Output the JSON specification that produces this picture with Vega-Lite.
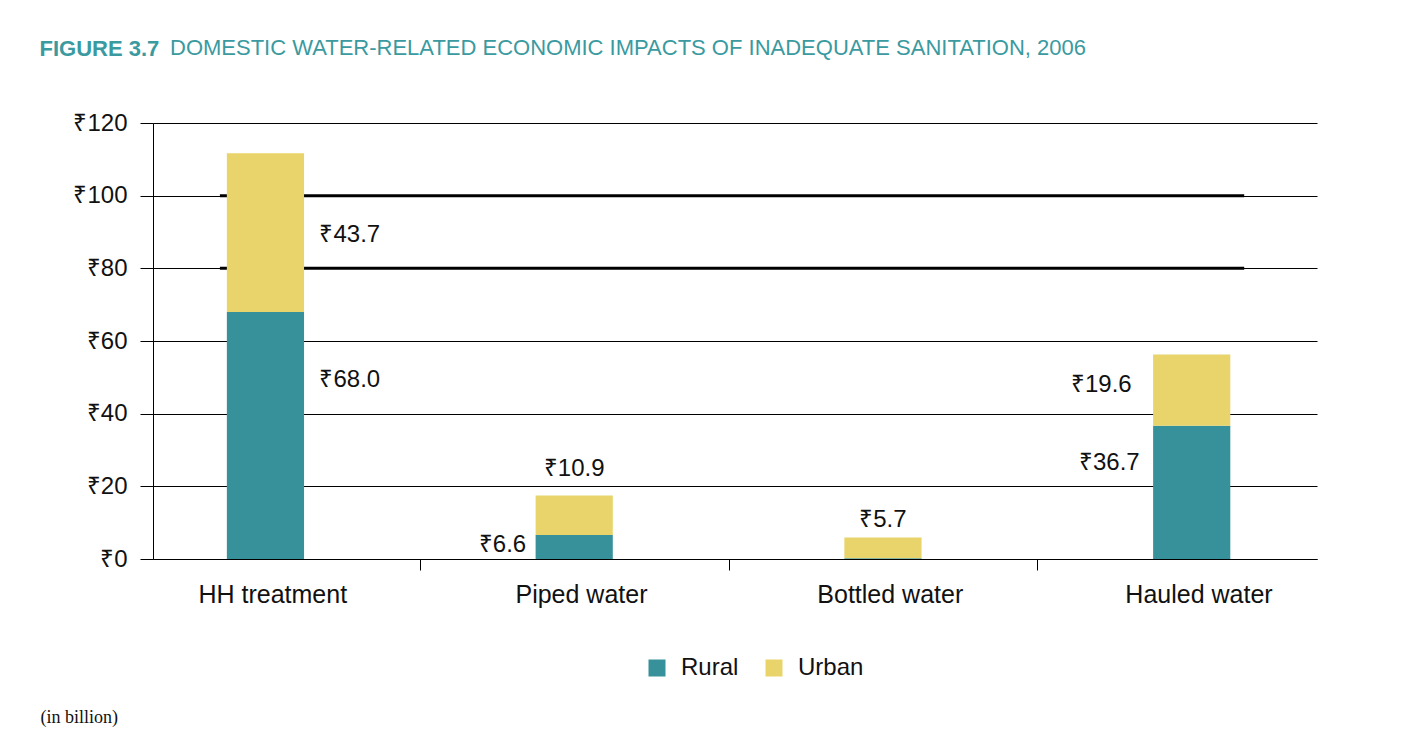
{
  "$schema": "https://vega.github.io/schema/vega-lite/v6.json",
  "autosize": {"type": "none"},
  "width": 1164,
  "height": 436,
  "padding": {"left": 153, "top": 123, "right": 86, "bottom": 194},
  "background": "white",
  "title": {
    "text": "DOMESTIC WATER-RELATED ECONOMIC IMPACTS OF INADEQUATE SANITATION, 2006",
    "anchor": "start",
    "frame": "group",
    "dx": 17,
    "offset": -23,
    "font": "Liberation Sans",
    "fontSize": 22,
    "fontWeight": "normal",
    "color": "#3A9AA0"
  },
  "data": {
    "values": [
      {"category": "HH treatment", "type": "Rural", "value": 68.0},
      {"category": "HH treatment", "type": "Urban", "value": 43.7},
      {"category": "Piped water", "type": "Rural", "value": 6.6},
      {"category": "Piped water", "type": "Urban", "value": 10.9},
      {"category": "Bottled water", "type": "Rural", "value": 0.2},
      {"category": "Bottled water", "type": "Urban", "value": 5.7},
      {"category": "Hauled water", "type": "Rural", "value": 36.7},
      {"category": "Hauled water", "type": "Urban", "value": 19.6}
    ]
  },
  "transform": [
    {"stack": "value", "groupby": ["category"], "sort": [{"field": "type", "order": "ascending"}], "as": ["v0", "v1"]},
    {"calculate": "(datum.v0 + datum.v1) / 2", "as": "mid"},
    {"calculate": "'₹' + format(datum.value, '.1f')", "as": "label"}
  ],
  "encoding": {
    "x": {
      "field": "category",
      "type": "nominal",
      "sort": ["HH treatment", "Piped water", "Bottled water", "Hauled water"],
      "scale": {"paddingInner": 0.75, "paddingOuter": 0.26, "align": 0.46},
      "axis": {
        "title": "(in billion)",
        "titleFont": "Liberation Serif",
        "titleFontSize": 18,
        "titleFontWeight": "normal",
        "titleColor": "#111111",
        "titleAnchor": "start",
        "titleAlign": "left",
        "titleBaseline": "middle",
        "titleX": -113,
        "titleY": 158,
        "labelAngle": 0,
        "labelFont": "Liberation Sans",
        "labelFontSize": 25,
        "labelColor": "#111111",
        "labelPadding": 12,
        "bandPosition": 1,
        "tickOffset": 115.8,
        "labelOffset": -109,
        "tickOpacity": {"condition": {"test": "datum.value === 'Hauled water'", "value": 0}, "value": 1},
        "tickSize": 11,
        "tickColor": "#000000",
        "domainColor": "#000000",
        "grid": false
      }
    }
  },
  "layer": [
    {
      "data": {"values": [{"level": 80}, {"level": 100}]},
      "transform": [],
      "mark": {"type": "rule", "color": "#000000", "strokeWidth": 3},
      "encoding": {
        "y": {"field": "level", "type": "quantitative", "scale": {"domain": [0, 120]}},
        "x": {"datum": "HH treatment", "bandPosition": -0.09},
        "x2": {"datum": "Hauled water", "bandPosition": 1.18}
      }
    },
    {
      "mark": {"type": "bar"},
      "encoding": {
        "y": {
          "field": "v1",
          "type": "quantitative",
          "scale": {"domain": [0, 120]},
          "axis": {
            "title": "FIGURE 3.7",
            "titleFont": "Liberation Sans",
            "titleFontSize": 22,
            "titleFontWeight": "bold",
            "titleColor": "#3A9AA0",
            "titleAngle": 0,
            "titleAlign": "left",
            "titleBaseline": "middle",
            "titleX": -114,
            "titleY": -75,
            "values": [0, 20, 40, 60, 80, 100, 120],
            "labelExpr": "'₹' + datum.value",
            "labelFont": "Liberation Sans",
            "labelFontSize": 24,
            "labelColor": "#111111",
            "labelPadding": 13,
            "tickSize": 13,
            "tickColor": "#000000",
            "domainColor": "#000000",
            "gridColor": "#000000",
            "gridWidth": 1,
            "gridOpacity": 1
          }
        },
        "y2": {"field": "v0"},
        "color": {
          "field": "type",
          "type": "nominal",
          "scale": {"domain": ["Rural", "Urban"], "range": ["#37919B", "#E8D46A"]},
          "legend": {
            "title": null,
            "orient": "none",
            "direction": "horizontal",
            "legendX": 492,
            "legendY": 533,
            "symbolType": "square",
            "symbolSize": 289,
            "symbolStrokeWidth": 0,
            "labelFont": "Liberation Sans",
            "labelFontSize": 24,
            "labelColor": "#111111",
            "labelOffset": 12,
            "columnPadding": 23
          }
        }
      }
    },
    {
      "transform": [{"filter": "datum.category === 'HH treatment' && datum.type === 'Rural'"}],
      "mark": {"type": "text", "align": "left", "baseline": "middle", "dx": 54, "dy": -55, "font": "Liberation Sans", "fontSize": 24, "color": "#111111"},
      "encoding": {"y": {"field": "mid", "type": "quantitative"}, "text": {"field": "label"}}
    },
    {
      "transform": [{"filter": "datum.category === 'HH treatment' && datum.type === 'Urban'"}],
      "mark": {"type": "text", "align": "left", "baseline": "middle", "dx": 54, "dy": 2, "font": "Liberation Sans", "fontSize": 24, "color": "#111111"},
      "encoding": {"y": {"field": "mid", "type": "quantitative"}, "text": {"field": "label"}}
    },
    {
      "transform": [{"filter": "datum.category === 'Piped water' && datum.type === 'Rural'"}],
      "mark": {"type": "text", "align": "right", "baseline": "middle", "dx": -48, "dy": -2, "font": "Liberation Sans", "fontSize": 24, "color": "#111111"},
      "encoding": {"y": {"field": "mid", "type": "quantitative"}, "text": {"field": "label"}}
    },
    {
      "transform": [{"filter": "datum.category === 'Piped water' && datum.type === 'Urban'"}],
      "mark": {"type": "text", "align": "center", "baseline": "middle", "dx": 0, "dy": -46, "font": "Liberation Sans", "fontSize": 24, "color": "#111111"},
      "encoding": {"y": {"field": "mid", "type": "quantitative"}, "text": {"field": "label"}}
    },
    {
      "transform": [{"filter": "datum.category === 'Bottled water' && datum.type === 'Urban'"}],
      "mark": {"type": "text", "align": "center", "baseline": "middle", "dx": 0, "dy": -28, "font": "Liberation Sans", "fontSize": 24, "color": "#111111"},
      "encoding": {"y": {"field": "mid", "type": "quantitative"}, "text": {"field": "label"}}
    },
    {
      "transform": [{"filter": "datum.category === 'Hauled water' && datum.type === 'Rural'"}],
      "mark": {"type": "text", "align": "right", "baseline": "middle", "dx": -52, "dy": -29, "font": "Liberation Sans", "fontSize": 24, "color": "#111111"},
      "encoding": {"y": {"field": "mid", "type": "quantitative"}, "text": {"field": "label"}}
    },
    {
      "transform": [{"filter": "datum.category === 'Hauled water' && datum.type === 'Urban'"}],
      "mark": {"type": "text", "align": "right", "baseline": "middle", "dx": -60, "dy": -5, "font": "Liberation Sans", "fontSize": 24, "color": "#111111"},
      "encoding": {"y": {"field": "mid", "type": "quantitative"}, "text": {"field": "label"}}
    }
  ],
  "config": {
    "view": {"stroke": null}
  }
}
